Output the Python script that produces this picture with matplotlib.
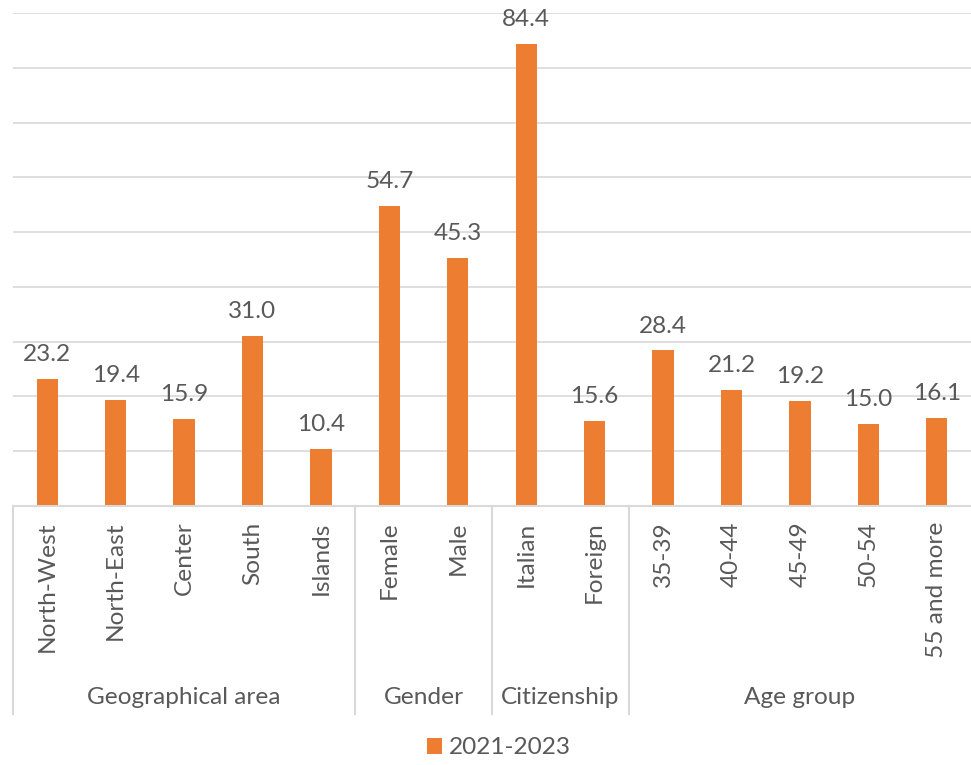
import matplotlib
matplotlib.use("Agg")
import matplotlib.pyplot as plt
import matplotlib.transforms as mtransforms
import numpy as np

categories = ["North-West", "North-East", "Center", "South", "Islands",
              "Female", "Male", "Italian", "Foreign",
              "35-39", "40-44", "45-49", "50-54", "55 and more"]
values = [23.2, 19.4, 15.9, 31.0, 10.4, 54.7, 45.3, 84.4, 15.6,
          28.4, 21.2, 19.2, 15.0, 16.1]
groups = ["Geographical area", "Gender", "Citizenship", "Age group"]
group_sizes = [5, 2, 2, 5]
series_name = "2021-2023"

plt.rcParams['font.family'] = ['Lato', 'DejaVu Sans']
txt_color = "#595959"
grid_color = "#D9D9D9"
bar_color = "#ED7D31"
fs = 17.6

fig = plt.figure(figsize=(9.71, 7.65), dpi=100)
ax = fig.add_axes([13/971, 259/765, 958/971, 493/765])

x = np.arange(len(categories))
bars = ax.bar(x, values, width=0.31, color=bar_color, zorder=3, label=series_name)
ax.set_xlim(-0.5, len(categories) - 0.5)
ax.set_ylim(0, 90)
ax.set_yticks(np.arange(0, 91, 10))
ax.yaxis.grid(True, color=grid_color, lw=1.2, zorder=0)
ax.tick_params(axis='y', length=0, labelleft=False)
for s in ["top", "right", "left"]:
    ax.spines[s].set_visible(False)
ax.spines["bottom"].set_color(grid_color)
ax.spines["bottom"].set_linewidth(1.5)
ax.spines["bottom"].set_zorder(4)

ax.set_xticks(x)
ax.set_xticklabels(categories, rotation=90, va='top', ha='center',
                   fontsize=fs, color=txt_color)
ax.tick_params(axis='x', length=0, pad=11)

for b, v in zip(bars, values):
    ax.annotate(f"{v:.1f}", (b.get_x() + b.get_width()/2, v),
                xytext=(0, 10), textcoords="offset points",
                ha='center', va='bottom', fontsize=fs, color=txt_color)

trans = mtransforms.blended_transform_factory(ax.transData, ax.transAxes)
bottom_y = -(714 - 506) / 493
label_y = -(698 - 506) / 493
start = -0.5
bounds = [start]
for g, n in zip(groups, group_sizes):
    end = start + n
    ax.text((start + end) / 2, label_y, g, transform=trans, ha='center',
            va='center', fontsize=fs, color=txt_color)
    bounds.append(end)
    start = end
for bx in bounds[:-1]:
    ax.plot([bx, bx], [0, bottom_y], transform=trans, color=grid_color,
            lw=1.5, clip_on=False)

fig.legend(handles=[bars], labels=[series_name], loc='center',
           bbox_to_anchor=(499/971, 1 - 748/765), frameon=False,
           fontsize=fs, labelcolor=txt_color, handlelength=0.6,
           handleheight=0.6, handletextpad=0.3)

fig.savefig("out.png", dpi=100, facecolor="white")
